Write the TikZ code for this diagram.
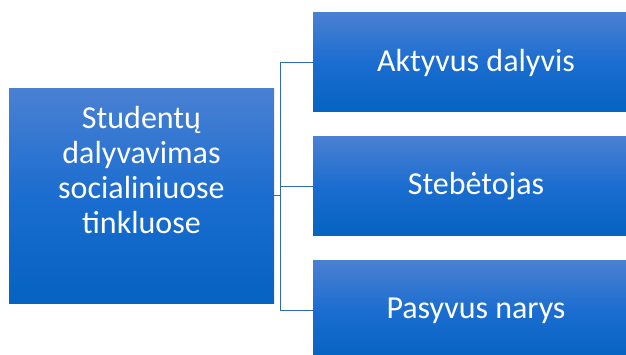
\documentclass[tikz,border=0pt]{standalone}
\usepackage{fontspec}
\setmainfont{Carlito}
\definecolor{boxtop}{HTML}{4A80D2}
\definecolor{boxmid}{HTML}{1B6DD0}
\definecolor{boxbot}{HTML}{0563C1}
\definecolor{linkblue}{HTML}{2E6DB4}
\tikzset{
  card/.style={rectangle, inner sep=0pt, top color=boxtop, bottom color=boxbot,
    middle color=boxmid, draw=none},
  cardtext/.style={text=white, font=\fontsize{32}{35}\selectfont, align=center},
  link/.style={draw=linkblue, line width=1pt}
}
\begin{document}
\begin{tikzpicture}[x=1pt,y=-1pt]
  \useasboundingbox (0,0) rectangle (626,355);
  \clip (0,0) rectangle (626,355);
  % boxes
  \node[card, minimum width=265pt, minimum height=214pt] (root) at (141.5,196) {};
  \node[card, minimum width=326pt, minimum height=99pt] (a) at (476,62.5) {};
  \node[card, minimum width=326pt, minimum height=99pt] (b) at (476,186.5) {};
  \node[card, minimum width=326pt, minimum height=99pt] (c) at (476,310.5) {};
  % labels
  \node[cardtext] (roott) at (141.5,170) {Studentų\\dalyvavimas\\socialiniuose\\tinkluose};
  \node[cardtext] (at) at (a.center) {Aktyvus dalyvis};
  \node[cardtext] (bt) at (b.center) {Stebėtojas};
  \node[cardtext] (ct) at (c.center) {Pasyvus narys};
  % connectors
  \coordinate (j) at (280.5,196);
  \draw[link] (root.east) -- (j);
  \draw[link] (j |- a.west) -- (a.west);
  \draw[link] (j |- b.west) -- (b.west);
  \draw[link] (j |- c.west) -- (c.west);
  \draw[link] (j |- a.west) -- (j |- c.west);
\end{tikzpicture}
\end{document}
